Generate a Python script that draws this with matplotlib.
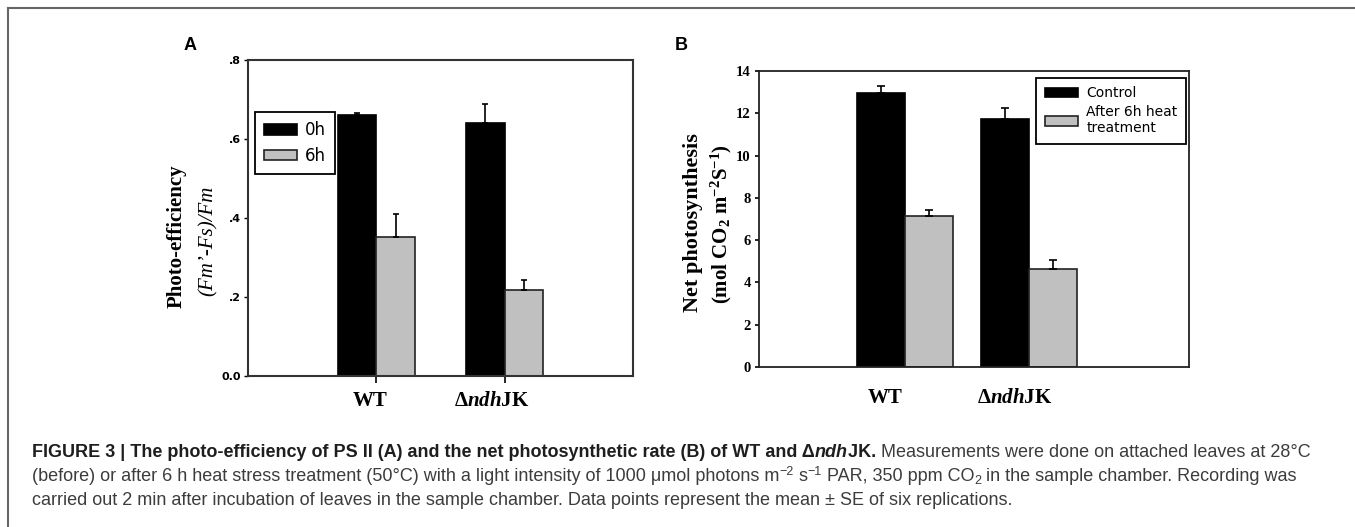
import numpy as np
import matplotlib.pyplot as plt
from matplotlib.lines import Line2D
from matplotlib.font_manager import FontProperties
import matplotlib.transforms as mtransforms

plt.rcParams['mathtext.fontset'] = 'custom'
plt.rcParams['mathtext.rm'] = 'Liberation Serif:bold'
plt.rcParams['mathtext.bf'] = 'Liberation Serif:bold'
plt.rcParams['mathtext.it'] = 'Liberation Serif:italic'
plt.rcParams['mathtext.bfit'] = 'Liberation Serif:italic:bold'

# data
groups = ['WT', r'$\Delta\mathbfit{ndh}$JK']

a_0h = [0.661, 0.641]
a_0h_err = [0.004, 0.048]
a_6h = [0.353, 0.218]
a_6h_err = [0.056, 0.025]
a_yticks = [0.0, 0.2, 0.4, 0.6, 0.8]
a_yticklabels = ['0.0', '.2', '.4', '.6', '.8']

b_ctrl = [12.95, 11.72]
b_ctrl_err = [0.34, 0.55]
b_heat = [7.14, 4.62]
b_heat_err = [0.29, 0.44]
b_yticks = [0, 2, 4, 6, 8, 10, 12, 14]

W, H = 1355, 527
fig = plt.figure(figsize=(W/100, H/100), dpi=100)

# outer frame (top and left only)
fig.add_artist(Line2D([8/W, 8/W], [0, 1-8/H], color='#666666', lw=1.5))
fig.add_artist(Line2D([8/W, 1], [1-8/H, 1-8/H], color='#666666', lw=1.5))

grey = '#c0c0c0'
x = np.arange(1, 3)

# ---------------- panel A
axA = fig.add_axes([248/W, 1-376/H, (633-248)/W, (376-60)/H])
w = 0.3
zeros = [0, 0]
r1 = axA.bar(x-w/2, a_0h, w, color='black', edgecolor='black', lw=1.2,
             yerr=[zeros, a_0h_err], capsize=2.5, error_kw=dict(lw=1.2, capthick=1.2))
r2 = axA.bar(x+w/2, a_6h, w, color=grey, edgecolor='#222222', lw=1.2,
             yerr=[zeros, a_6h_err], capsize=2.5, error_kw=dict(lw=1.2, capthick=1.2))
axA.set_xlim(0, 3)
axA.set_ylim(0, 0.8)
axA.set_yticks(a_yticks)
axA.set_yticklabels(a_yticklabels, fontsize=8, family='DejaVu Sans', weight='bold')
axA.set_xticks(x)
axA.set_xticklabels([])
axA.tick_params(axis='y', length=3, width=1, pad=2)
axA.tick_params(axis='x', length=5, width=1.2)
for s in axA.spines.values():
    s.set_linewidth(1.5)
    s.set_color('#333333')
legA = axA.legend([r1, r2], ['0h', '6h'], loc='upper left', bbox_to_anchor=(0.018, 0.835),
                  borderaxespad=0, fancybox=False, edgecolor='black', framealpha=1,
                  prop=dict(family='DejaVu Sans', size=12), handlelength=2.0,
                  handleheight=0.6, handletextpad=0.45, borderpad=0.55, labelspacing=0.45)
legA.get_frame().set_linewidth(1.3)

a_lab_dx = [-6, -13]
for xi, lab, dx in zip(x, groups, a_lab_dx):
    off = mtransforms.ScaledTranslation(dx/100, 0, fig.dpi_scale_trans)
    axA.text(xi, -0.079, lab, transform=axA.get_xaxis_transform() + off,
             ha='center', va='center', family='Liberation Serif', weight='bold', fontsize=15)

fig.text(177/W, 1-236/H, 'Photo-efficiency', rotation=90, ha='center', va='center',
         family='Liberation Serif', weight='bold', fontsize=15)
fig.text(208/W, 1-241/H, '(Fm\u2019-Fs)/Fm', rotation=90, ha='center', va='center',
         family='Liberation Serif', style='italic', fontsize=15)
fig.text(190/W, 1-45/H, 'A', ha='center', va='center', family='Liberation Sans',
         weight='bold', fontsize=13)

# ---------------- panel B
axB = fig.add_axes([759/W, 1-367/H, (1189-759)/W, (367-71)/H])
w = 0.39
q1 = axB.bar(x-w/2, b_ctrl, w, color='black', edgecolor='black', lw=1.2,
             yerr=[zeros, b_ctrl_err], capsize=3, error_kw=dict(lw=1.2, capthick=1.2))
q2 = axB.bar(x+w/2, b_heat, w, color=grey, edgecolor='#222222', lw=1.2,
             yerr=[zeros, b_heat_err], capsize=3, error_kw=dict(lw=1.2, capthick=1.2))
axB.set_xlim(-0.177, 3.29)
axB.set_ylim(0, 14)
axB.set_yticks(b_yticks)
axB.set_yticklabels([str(v) for v in b_yticks], fontsize=10.5, family='Liberation Serif',
                    weight='bold')
axB.set_xticks([])
axB.tick_params(axis='y', length=3, width=1.2, pad=3)
for s in axB.spines.values():
    s.set_linewidth(1.3)
    s.set_color('#222222')
legB = axB.legend([q1, q2], ['Control', 'After 6h heat\ntreatment'], loc='upper right',
                  bbox_to_anchor=(0.993, 0.976), borderaxespad=0, fancybox=False,
                  edgecolor='black', framealpha=1, prop=dict(family='DejaVu Sans', size=10),
                  handlelength=2.4, handleheight=0.7, handletextpad=0.6, borderpad=0.6,
                  labelspacing=0.35)
legB.get_frame().set_linewidth(1.3)

b_lab_dx = [-20, -14]
for xi, lab, dx in zip(x, groups, b_lab_dx):
    off = mtransforms.ScaledTranslation(dx/100, 0, fig.dpi_scale_trans)
    axB.text(xi, -0.105, lab, transform=axB.get_xaxis_transform() + off,
             ha='center', va='center', family='Liberation Serif', weight='bold', fontsize=15)

fig.text(693/W, 1-223/H, 'Net photosynthesis', rotation=90, ha='center', va='center',
         family='Liberation Serif', weight='bold', fontsize=16)
fig.text(721/W, 1-224/H, r'(mol CO$_2$ m$^{-2}$S$^{-1}$)', rotation=90, ha='center',
         va='center', family='Liberation Serif', weight='bold', fontsize=15)
fig.text(681/W, 1-45/H, 'B', ha='center', va='center', family='Liberation Sans',
         weight='bold', fontsize=13)

# ---------------- caption, drawn piece by piece
renderer = fig.canvas.get_renderer()
cap_size = 13.0
dark = '#1e1e1e'
mid = '#3c3c3c'


def piece_width(s, prop):
    w1 = renderer.get_text_width_height_descent(s + '|', prop, ismath=False)[0]
    w2 = renderer.get_text_width_height_descent('|', prop, ismath=False)[0]
    return w1 - w2


def put_line(x_px, y_px, pieces):
    for s, kw in pieces:
        size = kw.get('size', cap_size)
        prop = FontProperties(family='Liberation Sans', size=size,
                              weight=kw.get('weight', 'normal'),
                              style=kw.get('style', 'normal'))
        fig.text(x_px/W, 1-(y_px - kw.get('dy', 0))/H, s, ha='left', va='baseline',
                 fontproperties=prop, color=kw.get('color', mid))
        x_px += piece_width(s, prop)


B = dict(weight='bold', color=dark)
sup = dict(size=9, dy=6)
sub = dict(size=9, dy=-3)
put_line(32, 457, [
    ('FIGURE 3 | The photo-efficiency of PS II (A) and the net photosynthetic rate (B) of WT and \u0394', B),
    ('ndh', dict(weight='bold', style='italic', color=dark)),
    ('JK. ', B),
    ('Measurements were done on attached leaves at 28\u00b0C', {}),
])
put_line(32, 481, [
    ('(before) or after 6 h heat stress treatment (50\u00b0C) with a light intensity of 1000 \u03bcmol photons m', {}),
    ('\u22122', sup),
    (' s', {}),
    ('\u22121', sup),
    (' PAR, 350 ppm CO', {}),
    ('2', sub),
    (' in the sample chamber. Recording was', {}),
])
put_line(32, 505, [
    ('carried out 2 min after incubation of leaves in the sample chamber. Data points represent the mean \u00b1 SE of six replications.', {}),
])

plt.savefig('out.png', dpi=100)
